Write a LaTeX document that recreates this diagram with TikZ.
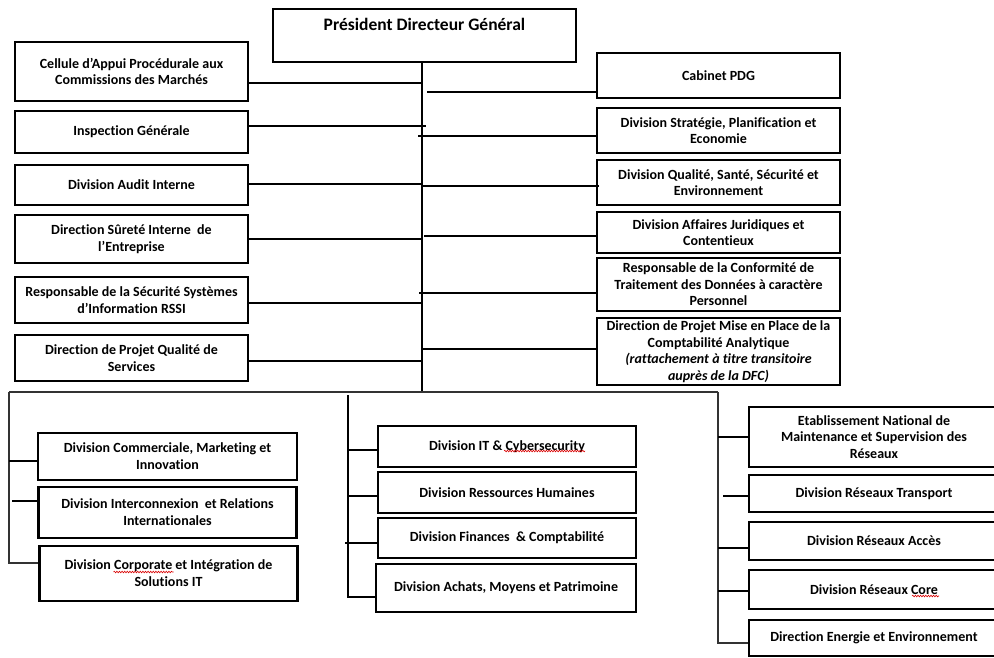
\documentclass[tikz,border=0pt]{standalone}
\usepackage{fontspec}
\setmainfont{Carlito}[Ligatures=CommonOff]
\usetikzlibrary{decorations.pathmorphing}
\begin{document}
\begin{tikzpicture}[x=1pt,y=-1pt,
  box/.style={draw, line width=2.1pt, align=center, inner sep=1pt,
    font=\bfseries\fontsize{14}{16.5}\selectfont},
  lbox/.style={box, font=\bfseries\fontsize{14}{16.8}\selectfont},
  conn/.style={line width=1.8pt},
  bar/.style={line width=1.3pt, draw=black!80},
  squig/.style={draw=red!85!black, line width=0.6pt, decorate,
    decoration={snake, amplitude=0.8pt, segment length=2.6pt}}]
\useasboundingbox (0,0) rectangle (994,657);
\clip (0,0) rectangle (994,657);

% top
\node[box, inner ysep=0pt, text height=21pt, text depth=32pt, minimum width=303,
      font=\bfseries\fontsize{17.5}{19}\selectfont] (pdg) at (424.5,35.5) {Président Directeur Général};
\coordinate (trunk) at (422,62);
\coordinate (tbot) at (422,392);

% left column
\node[box, minimum width=233, minimum height=59] (L1) at (131.5,71.5) {Cellule d’Appui Procédurale aux\\Commissions des Marchés};
\node[box, minimum width=233, minimum height=42] (L2) at (131.5,132) {Inspection Générale};
\node[box, minimum width=233, minimum height=40] (L3) at (131.5,185) {Division Audit Interne};
\node[box, minimum width=233, minimum height=48] (L4) at (131.5,239) {Direction Sûreté Interne~ de\\l’Entreprise};
\node[box, minimum width=233, minimum height=46] (L5) at (131.5,300) {Responsable de la Sécurité Systèmes\\d’Information RSSI};
\node[box, minimum width=233, minimum height=46] (L6) at (131.5,358) {Direction de Projet Qualité de\\Services};

% right column
\node[box, minimum width=243, minimum height=45] (R1) at (718.5,75.5) {Cabinet PDG};
\node[box, minimum width=243, minimum height=45] (R2) at (718.5,130.5) {Division Stratégie, Planification et\\Economie};
\node[box, minimum width=243, minimum height=45] (R3) at (718.5,182.5) {Division Qualité, Santé, Sécurité et\\Environnement};
\node[box, minimum width=243, minimum height=41] (R4) at (718.5,232.5) {Division Affaires Juridiques et\\Contentieux};
\node[box, minimum width=243, minimum height=53, inner sep=0pt] (R5) at (718.5,284.5) {Responsable de la Conformité de\\Traitement des Données à caractère\\Personnel};
\node[box, minimum width=243, minimum height=67, inner sep=0pt] (R6) at (718.5,351.5) {Direction de Projet Mise en Place de la\\Comptabilité Analytique\\\textit{(rattachement à titre transitoire}\\\textit{auprès de la DFC)}};

% trunk and upper connectors
\draw[conn] (pdg.south -| trunk) -- (tbot);
\draw[conn] (L1.east |- 0,83) -- (trunk |- 0,83);
\draw[conn] (L2.east |- 0,126) -- ([xshift=4pt]trunk |- 0,126);
\draw[conn] (L3.east |- 0,184) -- (trunk |- 0,184);
\draw[conn] (L4.east |- 0,239) -- (trunk |- 0,239);
\draw[conn] (L5.east |- 0,303) -- (trunk |- 0,303);
\draw[conn] (L6.east |- 0,361) -- (trunk |- 0,361);
\draw[conn] ([xshift=5pt]trunk |- 0,92) -- (R1.west |- 0,92);
\draw[conn] ([xshift=-4pt]trunk |- 0,136) -- (R2.west |- 0,136);
\draw[conn] (trunk |- 0,186) -- ([xshift=3pt]R3.west |- 0,186);
\draw[conn] ([xshift=2pt]trunk |- 0,236) -- (R4.west |- 0,236);
\draw[conn] ([xshift=-3pt]trunk |- 0,293) -- (R5.west |- 0,293);
\draw[conn] (trunk |- 0,349) -- (R6.west |- 0,349);

% bottom bar
\coordinate (bl) at (9,392);
\coordinate (bm) at (348,395);
\coordinate (br) at (718,392);
\draw[bar] (bl) -- (br);

% bottom-left column
\node[lbox, minimum width=259, minimum height=47] (B1) at (167.5,456.5) {Division Commerciale, Marketing et\\Innovation};
\node[lbox, minimum width=258, minimum height=51] (B2) at (167.5,512.5) {Division Interconnexion~ et Relations\\Internationales};
\node[lbox, minimum width=258, minimum height=55] (B3) at (168.5,573.5) {Division Corporate et Intégration de\\Solutions IT};
\draw[bar] (bl) |- (B3.west |- 0,563);
\draw[conn] (bl |- 0,461) -- (B1.west |- 0,461);
\draw[conn] ([xshift=3pt]bl |- 0,501) -- (B2.west |- 0,501);

% middle column
\node[lbox, minimum width=258, minimum height=41] (M1) at (507,446.5) {Division IT \& Cybersecurity};
\node[lbox, minimum width=258, minimum height=41] (M2) at (507,492.5) {Division Ressources Humaines};
\node[lbox, minimum width=258, minimum height=40] (M3) at (507,538) {Division Finances~ \& Comptabilité};
\node[lbox, minimum width=260, minimum height=48] (M4) at (506,588) {Division Achats, Moyens et Patrimoine};
\draw[conn] (bm) |- (M4.west |- 0,597);
\draw[conn] (bm |- 0,450) -- (M1.west |- 0,450);
\draw[conn] (bm |- 0,496) -- (M2.west |- 0,496);
\draw[conn] ([xshift=-3pt]bm |- 0,543) -- (M3.west |- 0,543);

% right bottom column
\node[lbox, minimum width=250, minimum height=60, inner sep=0pt] (E1) at (874,437) {Etablissement National de\\Maintenance et Supervision des\\Réseaux};
\node[lbox, minimum width=250, minimum height=37] (E2) at (874,493.5) {Division Réseaux Transport};
\node[lbox, minimum width=250, minimum height=38] (E3) at (874,541) {Division Réseaux Accès};
\node[lbox, minimum width=250, minimum height=39] (E4) at (874,589.5) {Division Réseaux Core};
\node[lbox, minimum width=250, minimum height=36] (E5) at (874,638) {Direction Energie et Environnement};
\draw[bar] (br) |- (E5.west |- 0,643);
\draw[conn] (br |- 0,437) -- (E1.west |- 0,437);
\draw[conn] ([xshift=5pt]br |- 0,496) -- (E2.west |- 0,496);
\draw[conn] (br |- 0,548) -- (E3.west |- 0,548);
\draw[conn] (br |- 0,591) -- (E4.west |- 0,591);

% spell-check underlines
\draw[squig] ([shift={(-55,-1.5)}]B3.center) -- ([shift={(5,-1.5)}]B3.center);
\draw[squig] ([shift={(-3,4.5)}]M1.center) -- ([shift={(78,4.5)}]M1.center);
\draw[squig] ([shift={(38,6.5)}]E4.center) -- ([shift={(65,6.5)}]E4.center);
\end{tikzpicture}
\end{document}
